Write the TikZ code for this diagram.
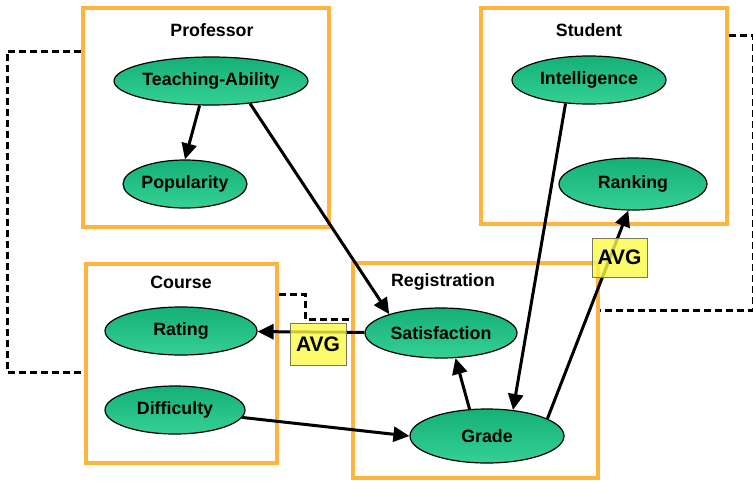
\documentclass[tikz,border=0pt]{standalone}
\usepackage{fontspec}
\setmainfont{Liberation Sans}
\usepackage{tikz}
\usetikzlibrary{shapes.geometric,arrows.meta}
\definecolor{frameorange}{RGB}{255,180,62}
\definecolor{attrtop}{RGB}{20,176,118}
\definecolor{attrbot}{RGB}{52,208,148}
\definecolor{avgyellow}{RGB}{250,250,70}
\definecolor{avgline}{RGB}{120,120,90}
\tikzset{
	frame/.style={draw=frameorange,line width=4pt,rectangle,inner sep=0pt},
	attr/.style={draw,ellipse,line width=1.2pt,top color=attrtop,bottom color=attrbot,inner sep=0pt,font=\bfseries\fontsize{17.8}{20}\selectfont},
	title/.style={font=\bfseries\fontsize{17.8}{20}\selectfont},
	dep/.style={line width=3pt,-{Triangle[length=16pt,width=15pt]}},
	slot/.style={line width=3pt,dash pattern=on 7pt off 4pt},
	avg/.style={draw=avgline,line width=1pt,fill=avgyellow,fill opacity=.8,text opacity=1,inner sep=0pt,font=\bfseries\fontsize{21}{24}\selectfont}
}
\newcommand{\dep}[2]{\draw[dep] (#1) -- (#2);}

\begin{document}
\begin{tikzpicture}[x=1pt,y=-1pt]
			\useasboundingbox (0,0) rectangle (753,482);
			% classes
			\node[frame,minimum width=246,minimum height=219](prof) at (206,117.5) {};
			\node[frame,minimum width=246,minimum height=216](stud) at (604,116) {};
			\node[frame,minimum width=191,minimum height=199](course) at (181.5,363.5) {};
			\node[frame,minimum width=245,minimum height=215](reg) at (475.5,370.5) {};
			\node[title](profT) at (212,30) {Professor};
			\node[title](studT) at (589,30) {Student};
			\node[title](courseT) at (181,282) {Course};
			\node[title](regT) at (443,282) {Registration};
			
			% slot chains
			\draw[slot] (prof.west |- 0,51) -- ++(-74,0) |- (course.west |- 0,372);
			\draw[slot] (stud.east |- 0,35) -- ++(24,0) |- (reg.east |- 0,310);
			\draw[slot] (course.east |- 0,294) -| (305,319) -- (reg.west |- 0,319);
			
			% attributes
			\node[attr,minimum width=154,minimum height=48](ta) at (211,81) {Teaching-Ability};
			\node[attr,minimum width=124,minimum height=48](pop) at (185,184) {Popularity};
			\node[attr,minimum width=154,minimum height=48](intel) at (589,80) {Intelligence};
			\node[attr,minimum width=148,minimum height=52](rank) at (633,184) {Ranking};
			\node[attr,minimum width=152,minimum height=48](rating) at (181,331) {Rating};
			\node[attr,minimum width=140,minimum height=48](diff) at (175,410) {Difficulty};
			\node[attr,minimum width=152,minimum height=50](sat) at (441,333) {Satisfaction};
			\node[attr,minimum width=154,minimum height=54](grade) at (487,436) {Grade};
			
			\dep{ta.-115}{pop.north}
			\dep{ta.-30}{sat.160}
			\dep{intel.-135}{grade.45}
			\dep{sat}{rating}
			\dep{diff}{grade.west}
			\dep{grade.123}{sat.-60}
			\dep{grade.16}{rank.-100}
			
			% aggregates
			\node[avg,minimum width=56,minimum height=42](avg1) at (318,344) {AVG};
			\node[avg,minimum width=55,minimum height=39](avg2) at (619.5,257.5) {AVG};
		\end{tikzpicture}
\end{document}
